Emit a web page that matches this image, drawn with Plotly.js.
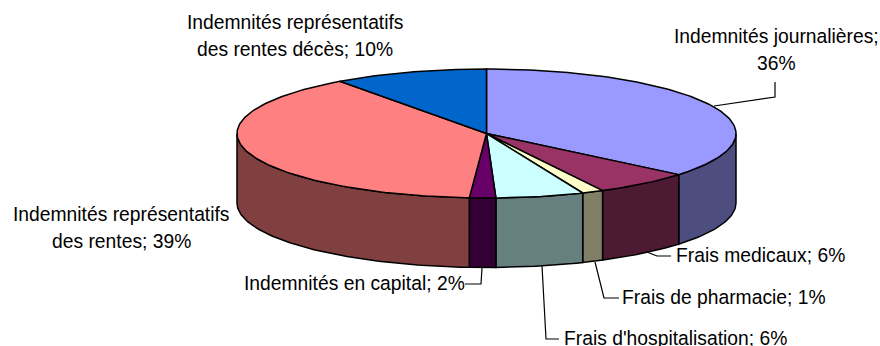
<!DOCTYPE html>
<html>
<head>
<meta charset="utf-8">
<script src="https://cdn.plot.ly/plotly-3.0.1.min.js"></script>
<style>html,body{margin:0;padding:0;background:#fff;overflow:hidden}#chart{width:880px;height:346px}</style>
</head>
<body>
<div id="chart"></div>
<script>
// Data, clockwise from 12 o'clock
const categories = ["Indemnités journalières","Frais medicaux","Frais de pharmacie","Frais d'hospitalisation","Indemnités en capital","Indemnités représentatifs des rentes","Indemnités représentatifs des rentes décès"];
const values = [36, 6.3, 1.4, 5.7, 1.7, 38.9, 10];
const shownPercent = [36, 6, 1, 6, 2, 39, 10];
const topColors = ["#9999FF","#993366","#FFFFCC","#CCFFFF","#660066","#FF8080","#0066CC"];

// Where each label's text wraps (number of words on the first line; 0 = no wrap)
const firstLineWords = [2, 0, 0, 0, 0, 2, 2];

// Projection of the tilted pie on the drawing area
const cx = 486.5, cy = 133.5, rx = 249.5, ry = 64.5, depth = 69.5;

// Label placement per category: [x, y of first line, anchor]
const labelPlace = [
  [776, 36, "center"], [675, 255, "left"], [621, 297, "left"], [563, 338, "left"],
  [243, 283, "left"], [121, 214, "center"], [295, 22, "center"]
];
const lineGap = 27.5;
// Leader lines per category
const leaderX = [[775,775,714],[647,657,671],[595,604,619],[542,546,559],[482,481,465],[],[]];
const leaderY = [[82,97,106],[252,256,256],[262,298,298],[266,339,339],[268,284,284],[],[]];

function halve(hex){
  const n = parseInt(hex.slice(1),16);
  const ch = s => Math.round(((n>>s)&255)/2);
  return `rgb(${ch(16)},${ch(8)},${ch(0)})`;
}
const px = a => cx + rx*Math.sin(a*Math.PI/180);
const py = a => cy - ry*Math.cos(a*Math.PI/180);

const total = values.reduce((a,b)=>a+b,0);
let acc = 0;
const spans = values.map(v => { const s = acc/total*360; acc += v; return [s, acc/total*360]; });

const traces = [];
const baseTrace = {type:"scatter", mode:"lines", hoverinfo:"skip", showlegend:false};
// Side walls: only the front half of the rim is visible
spans.forEach(([s,e],i)=>{
  const a0 = Math.max(s,90), a1 = Math.min(e,270);
  if (a1 <= a0) return;
  const xs=[], ys=[];
  for (let a=a0; a<a1; a+=1){ xs.push(px(a)); ys.push(py(a)); }
  xs.push(px(a1)); ys.push(py(a1));
  for (let a=a1; a>a0; a-=1){ xs.push(px(a)); ys.push(py(a)+depth); }
  xs.push(px(a0)); ys.push(py(a0)+depth);
  xs.push(xs[0]); ys.push(ys[0]);
  traces.push({...baseTrace,name:categories[i]+" (side)",x:xs,y:ys,fill:"toself",fillcolor:halve(topColors[i]),line:{color:"#000",width:1.5}});
});
// Top wedges
spans.forEach(([s,e],i)=>{
  const xs=[cx], ys=[cy];
  for (let a=s; a<e; a+=1){ xs.push(px(a)); ys.push(py(a)); }
  xs.push(px(e),cx); ys.push(py(e),cy);
  traces.push({...baseTrace,name:categories[i],x:xs,y:ys,fill:"toself",fillcolor:topColors[i],line:{color:"#000",width:1.5}});
});
// Leaders
leaderX.forEach((lx,i)=>{
  if(!lx.length) return;
  traces.push({...baseTrace,name:categories[i]+" (leader)",x:lx,y:leaderY[i],line:{color:"#000",width:1.2}});
});

const annotations = [];
categories.forEach((c,i)=>{
  const full = `${c}; ${shownPercent[i]}%`;
  const words = full.split(" ");
  const n = firstLineWords[i];
  const lines = n ? [words.slice(0,n).join(" "), words.slice(n).join(" ")] : [full];
  lines.forEach((t,k)=>annotations.push({
    text:t, x:labelPlace[i][0], y:labelPlace[i][1]+k*lineGap, xref:"x", yref:"y",
    xanchor:labelPlace[i][2], yanchor:"middle", showarrow:false, borderpad:0,
    font:{family:"Liberation Sans, Arial, sans-serif", size:19.3, color:"#000"}
  }));
});

const hidden = {visible:false, fixedrange:true, showgrid:false, zeroline:false};
Plotly.newPlot("chart", traces, {
  width:880, height:346, margin:{l:0,r:0,t:0,b:0},
  paper_bgcolor:"#fff", plot_bgcolor:"#fff", showlegend:false,
  xaxis:{...hidden, range:[0,880]}, yaxis:{...hidden, range:[346,0]},
  annotations
}, {displayModeBar:false, staticPlot:true});
</script>
</body>
</html>
